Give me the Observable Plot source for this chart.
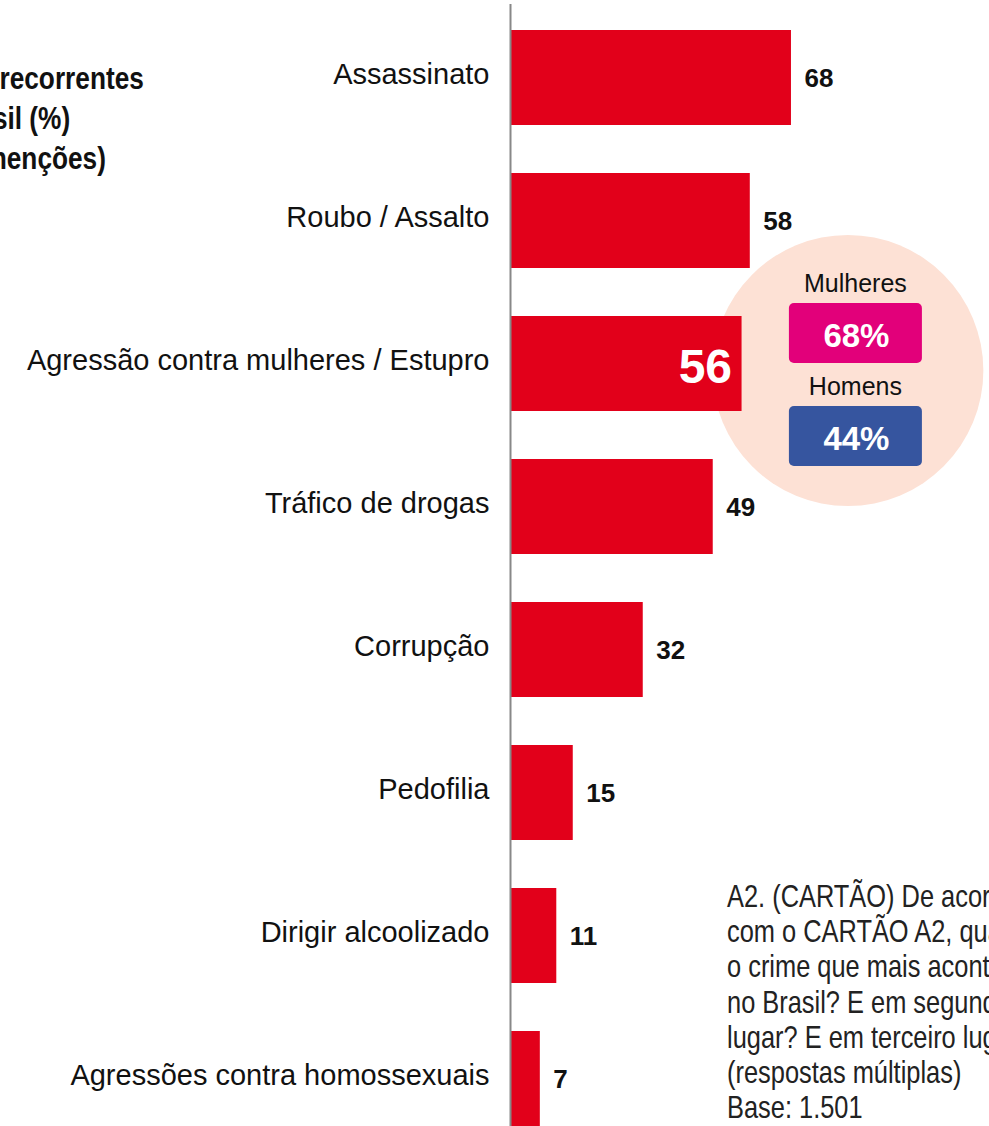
<!DOCTYPE html>
<html><head><meta charset="utf-8">
<script src="https://cdn.jsdelivr.net/npm/d3@7"></script>
<script src="https://cdn.jsdelivr.net/npm/@observablehq/plot@0.6"></script>
<style>
html,body{margin:0;padding:0;background:#fff;overflow:hidden;}
#chart{position:relative;width:989px;height:1126px;overflow:hidden;}
</style></head><body><div id="chart"></div>
<script>
const categories = ["Assassinato","Roubo / Assalto","Agressão contra mulheres / Estupro","Tráfico de drogas","Corrupção","Pedofilia","Dirigir alcoolizado","Agressões contra homossexuais"];
const values = [68,58,56,49,32,15,11,7];
const highlightCategory = "Agressão contra mulheres / Estupro";
const genderLabels = ["Mulheres","Homens"];
const genderValues = [68,44];
const genderColors = ["#e2007a","#36559f"];
const titleLines = ["Crimes mais recorrentes","no Brasil (%)","(até três menções)"];
const noteLines = ["A2. (CARTÃO) De acordo","com o CARTÃO A2, qual é","o crime que mais acontece","no Brasil? E em segundo","lugar? E em terceiro lugar?","(respostas múltiplas)","Base: 1.501"];

const data = categories.map((c,i)=>({category:c, value:values[i]}));
const SANS = "'Liberation Sans', Arial, sans-serif";
const NARROW_SCALE = 0.82;
const W = 989, H = 1126;

const plot = Plot.plot({
  width: W, height: H,
  marginLeft: 511, marginRight: 0, marginTop: 4, marginBottom: 0,
  style: {fontFamily: SANS, background: "transparent"},
  x: {domain: [0, 116.1], axis: null},
  y: {domain: categories, range: [3.75, 1151.75], paddingInner: 0.338, paddingOuter: 0.169, label: null, axis: null},
  marks: [
    Plot.dot([highlightCategory], {x: () => 81.7, y: d => d, r: 135.5, fill: "#fde1d5", dy: 6.5}),
    Plot.barX(data, {x: "value", y: "category", fill: "#e2001a"}),
    Plot.ruleX([0], {stroke: "#888", strokeWidth: 2, dx: -1}),
    Plot.axisY({tickSize: 0, tickPadding: 22, fontSize: 29, fill: "#111", dy: -3, label: null}),
    Plot.text(data.filter(d => d.category !== highlightCategory), {x: "value", y: "category", text: d => String(d.value), textAnchor: "start", dx: 13, dy: 1, fontSize: 26, fontWeight: "bold", fill: "#111", ariaLabel: "valuelabels"}),
    Plot.text(data.filter(d => d.category === highlightCategory), {x: "value", y: "category", text: d => String(d.value), textAnchor: "end", dx: -10, dy: 4, fontSize: 48, fontWeight: "bold", fill: "#fff"})
  ]
});
document.getElementById("chart").appendChild(plot);

const svg = d3.select(plot);

// narrow the bold value labels horizontally around their left edge
svg.selectAll('g[aria-label="valuelabels"] text').each(function() {
  const bb = this.getBBox();
  const parent = this.parentNode;
  const wrap = document.createElementNS("http://www.w3.org/2000/svg", "g");
  wrap.setAttribute("transform", `translate(${bb.x},0) scale(${NARROW_SCALE},1) translate(${-bb.x},0)`);
  parent.insertBefore(wrap, this);
  wrap.appendChild(this);
});

const ys = plot.scale("y");
const cy = ys.apply(highlightCategory) + ys.bandwidth / 2;
const xs = plot.scale("x");
const bx = xs.apply(67.5), bw = 133, bh = 60;
const g = svg.append("g");
genderLabels.forEach((lab, i) => {
  const off = i * 103;
  g.append("text").attr("x", bx + bw/2).attr("y", cy - 71.5 + off).attr("text-anchor", "middle")
    .attr("font-family", SANS).attr("font-size", 25).attr("fill", "#111").text(lab);
  g.append("rect").attr("x", bx).attr("y", cy - 60.5 + off).attr("width", bw).attr("height", bh)
    .attr("rx", 5).attr("fill", genderColors[i]);
  g.append("text").attr("x", bx + bw/2 + 1).attr("y", cy - 16.5 + off).attr("text-anchor", "middle")
    .attr("font-family", SANS).attr("font-weight", "bold").attr("font-size", 33).attr("fill", "#fff").text(genderValues[i] + "%");
});

const t = svg.append("g");
titleLines.forEach((line, i) => {
  t.append("text").attr("transform", `translate(-10,${89 + i * 40}) scale(${NARROW_SCALE},1)`)
    .attr("text-anchor", "middle")
    .attr("font-family", SANS).attr("font-weight", "bold").attr("font-size", 32).attr("fill", "#111").text(line);
});

const n = svg.append("g");
noteLines.forEach((line, i) => {
  n.append("text").attr("transform", `translate(727,${907 + i * 35.2}) scale(${NARROW_SCALE},1)`)
    .attr("text-anchor", "start")
    .attr("font-family", SANS).attr("font-size", 31).attr("fill", "#222").text(line);
});
</script></body></html>
